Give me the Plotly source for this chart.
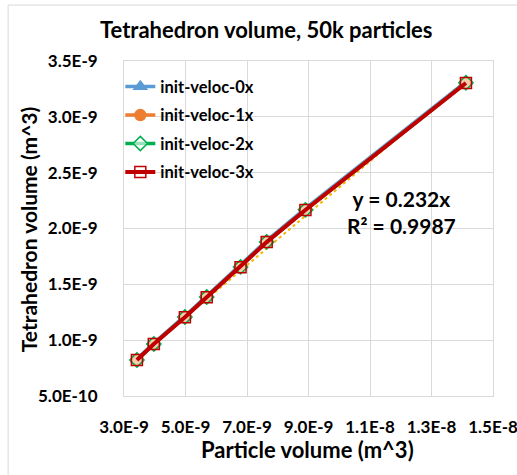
import numpy as np
import plotly.graph_objects as go

# Data
particle_volume = [3.42e-9, 3.97e-9, 4.98e-9, 5.69e-9, 6.79e-9, 7.64e-9, 8.90e-9, 1.412e-8]
tet_0x = [0.832e-9, 0.975e-9, 1.217e-9, 1.397e-9, 1.667e-9, 1.892e-9, 2.180e-9, 3.315e-9]
tet_1x = [0.823e-9, 0.966e-9, 1.208e-9, 1.387e-9, 1.656e-9, 1.880e-9, 2.167e-9, 3.305e-9]
tet_2x = [0.823e-9, 0.966e-9, 1.208e-9, 1.387e-9, 1.656e-9, 1.880e-9, 2.167e-9, 3.305e-9]
tet_3x = [0.822e-9, 0.965e-9, 1.206e-9, 1.385e-9, 1.654e-9, 1.878e-9, 2.165e-9, 3.303e-9]
series_names = ["init-veloc-0x", "init-veloc-1x", "init-veloc-2x", "init-veloc-3x"]
x_ticks = [3.0e-9, 5.0e-9, 7.0e-9, 9.0e-9, 1.1e-8, 1.3e-8, 1.5e-8]
x_tick_labels = ["3.0E-9", "5.0E-9", "7.0E-9", "9.0E-9", "1.1E-8", "1.3E-8", "1.5E-8"]
y_ticks = [5.0e-10, 1.0e-9, 1.5e-9, 2.0e-9, 2.5e-9, 3.0e-9, 3.5e-9]
y_tick_labels = ["5.0E-10", "1.0E-9", "1.5E-9", "2.0E-9", "2.5E-9", "3.0E-9", "3.5E-9"]

FONT = "Lato"
fig = go.Figure()

# trendline (dotted) fitted to data, drawn just under the series
coef = np.polyfit(particle_volume, tet_3x, 1)
trend_y = [coef[0] * v + coef[1] - 0.015e-9 for v in particle_volume]
fig.add_trace(go.Scatter(x=particle_volume, y=trend_y, mode="lines",
                         line=dict(color="#F0B800", width=2, dash="dot"),
                         showlegend=False, hoverinfo="skip"))

styles = [
    dict(color="#5B9BD5", symbol="triangle-up", mfill="#5B9BD5", mline="#5B9BD5", w=3.5),
    dict(color="#ED7D31", symbol="circle", mfill="#ED7D31", mline="#ED7D31", w=3.5),
    dict(color="#00B050", symbol="diamond", mfill="rgba(255,255,255,0.6)", mline="#00B050", w=3.5),
    dict(color="#C00000", symbol="square", mfill="rgba(255,255,255,0)", mline="#C00000", w=4),
]
for name, ys, st in zip(series_names, [tet_0x, tet_1x, tet_2x, tet_3x], styles):
    fig.add_trace(go.Scatter(
        x=particle_volume, y=ys, mode="lines+markers", name="<b>%s</b>" % name,
        legendgroup=name,
        line=dict(color=st["color"], width=st["w"]),
        marker=dict(symbol=st["symbol"], size=11, color=st["mfill"],
                    line=dict(color=st["mline"], width=1.5)),
    ))

fig.add_annotation(x=0.753, y=0.549, xref="paper", yref="paper",
                   xanchor="center", yanchor="middle",
                   text="<b>y = 0.232x<br>R² = 0.9987</b>", showarrow=False,
                   align="center", font=dict(family=FONT, size=21, color="black"))

# axis titles
fig.add_annotation(x=0.496, y=-0.161, xref="paper", yref="paper",
                   text="<b>Particle volume (m^3)</b>", showarrow=False,
                   xanchor="center", yanchor="middle",
                   font=dict(family=FONT, size=22, color="black"))
fig.add_annotation(x=-0.26, y=0.498, xref="paper", yref="paper",
                   text="<b>Tetrahedron volume (m^3)</b>", showarrow=False, textangle=-90,
                   xanchor="center", yanchor="middle",
                   font=dict(family=FONT, size=21, color="black"))

# outer chart border
fig.add_shape(type="rect", xref="paper", yref="paper",
              x0=-0.314, x1=1.3, y0=-0.4, y1=1.167,
              line=dict(color="#D9D9D9", width=1))

fig.update_layout(
    width=517, height=475,
    margin=dict(l=124, r=24, t=61, b=79, autoexpand=False),
    paper_bgcolor="white", plot_bgcolor="white",
    title=dict(text="<b>Tetrahedron volume, 50k particles</b>", x=0.515, xanchor="center",
               y=0.937, yanchor="middle",
               font=dict(family=FONT, size=22, color="black")),
    font=dict(family=FONT, color="black"),
    legend=dict(x=-0.01, y=0.975, xanchor="left", yanchor="top",
                bgcolor="rgba(0,0,0,0)", font=dict(family=FONT, size=16.5, color="black"),
                tracegroupgap=4, itemwidth=30),
    xaxis=dict(range=[3.0e-9, 1.5e-8], tickvals=x_ticks,
               ticktext=["<b>%s</b>" % t for t in x_tick_labels],
               tickfont=dict(family=FONT, size=17, color="black"),
               showgrid=True, gridcolor="#D9D9D9", gridwidth=1,
               showline=True, linecolor="#D9D9D9", mirror=True, zeroline=False,
               ticks="", ticklabelstandoff=16, automargin=False,
               ticklabeloverflow="allow"),
    yaxis=dict(range=[5.0e-10, 3.5e-9], tickvals=y_ticks,
               ticktext=["<b>%s</b>" % t for t in y_tick_labels],
               tickfont=dict(family=FONT, size=17, color="black"),
               showgrid=True, gridcolor="#D9D9D9", gridwidth=1,
               showline=True, linecolor="#D9D9D9", mirror=True, zeroline=False,
               ticks="", ticklabelstandoff=22, automargin=False,
               ticklabeloverflow="allow"),
)

fig.write_html("out.html")
